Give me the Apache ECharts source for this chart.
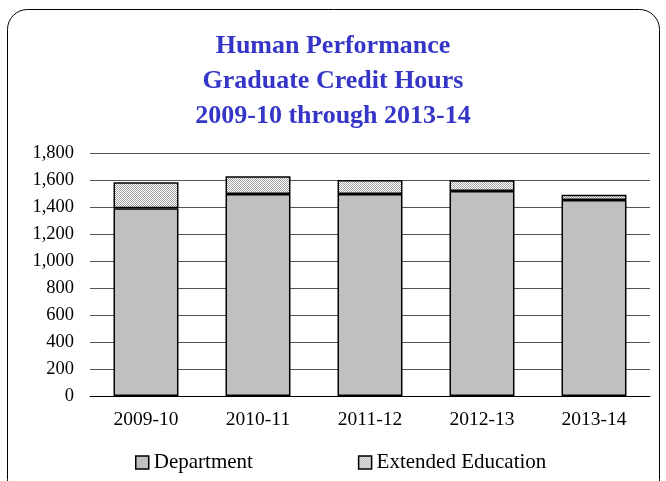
<!DOCTYPE html>
<html>
<head>
<meta charset="utf-8">
<script src="https://cdn.jsdelivr.net/npm/echarts@6/dist/echarts.min.js"></script>
<style>
html, body { margin: 0; padding: 0; background: #fff; }
#chart { width: 666px; height: 481px; }
</style>
</head>
<body>
<div id="chart"></div>
<script>
const years = ['2009-10', '2010-11', '2011-12', '2012-13', '2013-14']
const department = [1390, 1496, 1496, 1519, 1452]
const extended = [193, 131, 104, 79, 39]

// small checker tile for the Extended Education fill
function checker () {
  const c = document.createElement('canvas')
  c.width = 2
  c.height = 2
  const ctx = c.getContext('2d')
  ctx.fillStyle = '#ffffff'
  ctx.fillRect(0, 0, 2, 2)
  ctx.fillStyle = '#a4a4a4'
  ctx.fillRect(0, 0, 1, 1)
  ctx.fillRect(1, 1, 1, 1)
  return c
}

const serif = '"Liberation Serif", "Times New Roman", serif'
const chart = echarts.init(document.getElementById('chart'))
chart.setOption({
  animation: false,
  backgroundColor: '#fff',
  title: {
    text: 'Human Performance\nGraduate Credit Hours\n2009-10 through 2013-14',
    left: 'center',
    top: 24,
    textStyle: {
      color: '#3535c8',
      fontFamily: serif,
      fontWeight: 'bold',
      fontSize: 26,
      lineHeight: 35
    }
  },
  graphic: [{
    type: 'rect',
    shape: { x: 7.5, y: 9.5, width: 652, height: 490, r: 20 },
    style: { fill: 'none', stroke: '#000', lineWidth: 1 },
    silent: true
  }],
  legend: {
    bottom: 3,
    left: 130,
    itemGap: 105,
    itemWidth: 13,
    itemHeight: 13,
    icon: 'rect',
    textStyle: { fontFamily: serif, fontSize: 21, color: '#000' },
    data: [
      { name: 'Department', itemStyle: { borderColor: '#000', borderWidth: 1.5 } },
      { name: 'Extended Education', itemStyle: { borderColor: '#000', borderWidth: 1.5 } }
    ]
  },
  grid: { left: 90, right: 16, top: 153, bottom: 85 },
  xAxis: {
    type: 'category',
    data: years,
    axisLine: { lineStyle: { color: '#000' } },
    axisTick: { show: false },
    axisLabel: { fontFamily: serif, fontSize: 19.5, color: '#000', margin: 14 }
  },
  yAxis: {
    type: 'value',
    min: 0,
    max: 1800,
    interval: 200,
    axisLine: { show: false },
    axisTick: { show: false },
    axisLabel: {
      fontFamily: serif, fontSize: 18.5, color: '#000', margin: 16,
      formatter: v => v.toLocaleString('en-US')
    },
    splitLine: { lineStyle: { color: '#555', width: 1 } }
  },
  series: [
    {
      name: 'Department',
      type: 'bar',
      stack: 'total',
      barWidth: '58%',
      itemStyle: { color: '#c0c0c0', borderColor: '#000', borderWidth: 1.5 },
      data: department
    },
    {
      name: 'Extended Education',
      type: 'bar',
      stack: 'total',
      barWidth: '58%',
      itemStyle: { color: { image: checker(), repeat: 'repeat' }, borderColor: '#000', borderWidth: 1.5 },
      data: extended
    }
  ]
})
</script>
</body>
</html>
